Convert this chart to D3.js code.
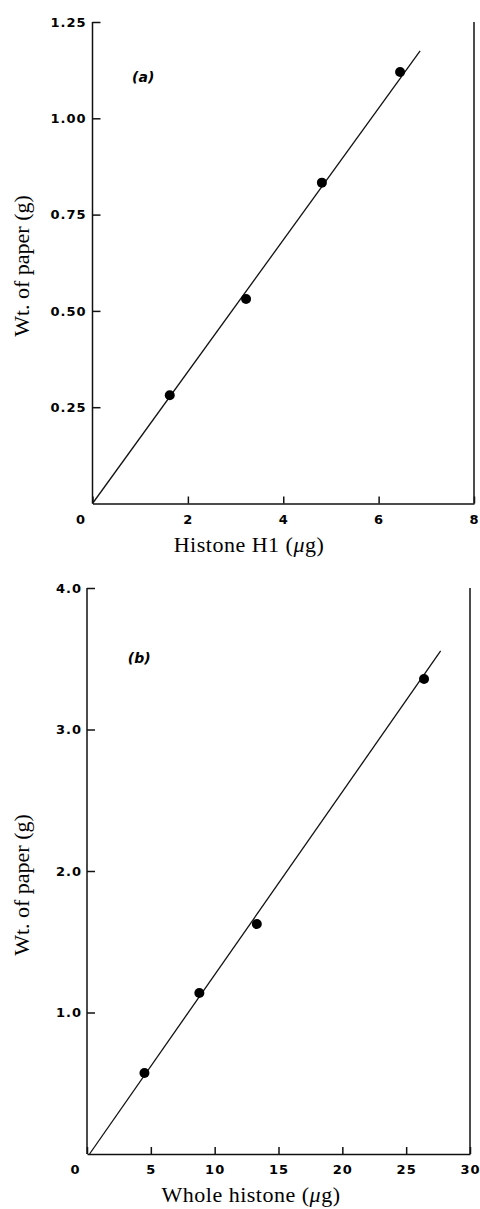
<!DOCTYPE html>
<html>
<head>
<meta charset="utf-8">
<script src="https://cdn.jsdelivr.net/npm/d3@7"></script>
<style>
  body { margin: 0; background: #fff; }
  svg { display: block; }
  .tick text { font-family: "DejaVu Sans", sans-serif; font-weight: bold; font-size: 13px; letter-spacing: 1px; fill: #000; }
  .axis path, .axis line { stroke: #111; stroke-width: 1.5; }
  .title { font-family: "Liberation Serif", "Times New Roman", serif; font-size: 22px; fill: #000; }
  .tag { font-family: "DejaVu Sans", sans-serif; font-weight: bold; font-style: italic; font-size: 14px; fill: #000; }
</style>
</head>
<body>
<svg id="chart" width="480" height="1209"></svg>
<script>
// Panel (a): histone H1
var h1Amount = [1.62, 3.22, 4.81, 6.45];
var h1Weight = [0.281, 0.531, 0.833, 1.12];
var h1FitX = [0, 6.87];
var h1FitY = [0, 1.175];
var h1XTicks = [0, 2, 4, 6, 8];
var h1YTicks = [0.25, 0.5, 0.75, 1.0, 1.25];

// Panel (b): whole histone
var wholeAmount = [4.5, 8.8, 13.3, 26.4];
var wholeWeight = [0.572, 1.138, 1.625, 3.357];
var wholeFitX = [0.2, 27.7];
var wholeFitY = [0, 3.555];
var wholeXTicks = [0, 5, 10, 15, 20, 25, 30];
var wholeYTicks = [1, 2, 3, 4];

var svg = d3.select("#chart");

function drawPanel(opt) {
	let g = svg.append("g");
	let x = d3.scaleLinear().domain(opt.xDomain).range(opt.xRange);
	let y = d3.scaleLinear().domain(opt.yDomain).range(opt.yRange);

	// y axis, ticks pointing inward
	let ya = g.append("g")
		.attr("class", "axis")
		.attr("transform", `translate(${opt.xRange[0]},0)`)
		.call(d3.axisLeft(y).tickValues(opt.yTicks).tickFormat(d3.format(opt.yFmt))
			.tickSizeInner(-8).tickSizeOuter(0).tickPadding(opt.yPad));
	ya.select(".domain").attr("d", `M0,${opt.yRange[0]}V${opt.yRange[1]}`);

	// x axis, ticks pointing up
	let xa = g.append("g")
		.attr("class", "axis")
		.attr("transform", `translate(0,${opt.yRange[0]})`)
		.call(d3.axisBottom(x).tickValues(opt.xTicks).tickFormat(d3.format("d"))
			.tickSizeInner(-7).tickSizeOuter(0).tickPadding(11));
	// the zero label sits left of the corner
	xa.selectAll(".tick text").filter(d => d === 0).attr("x", -12);

	// right border
	g.append("line")
		.attr("x1", x(opt.xDomain[1])).attr("x2", x(opt.xDomain[1]))
		.attr("y1", y(opt.yDomain[1])).attr("y2", y(0))
		.attr("stroke", "#111").attr("stroke-width", 1.5);

	// fitted line
	let fit = d3.zip(opt.fitX, opt.fitY);
	g.append("path")
		.datum(fit)
		.attr("d", d3.line().x(d => x(d[0])).y(d => y(d[1])))
		.attr("fill", "none")
		.attr("stroke", "#111")
		.attr("stroke-width", 1.3);

	// points
	g.selectAll("circle")
		.data(d3.zip(opt.px, opt.py))
		.enter().append("circle")
		.attr("cx", d => x(d[0]))
		.attr("cy", d => y(d[1]))
		.attr("r", 5)
		.attr("fill", "#000");

	// labels
	g.append("text")
		.attr("class", "tag")
		.attr("x", x(opt.tagAt[0])).attr("y", y(opt.tagAt[1]))
		.text(opt.tag);
	let xl = g.append("text")
		.attr("class", "title")
		.attr("text-anchor", "middle")
		.attr("x", opt.xLabelPos[0]).attr("y", opt.xLabelPos[1])
		.style("letter-spacing", "0.5px");
	xl.append("tspan").text(opt.xLabel + " (");
	xl.append("tspan").style("font-style", "italic").text("\u03bc");
	xl.append("tspan").text("g)");
	g.append("text")
		.attr("class", "title")
		.attr("text-anchor", "middle")
		.attr("transform", `translate(${opt.yLabelPos[0]},${opt.yLabelPos[1]}) rotate(-90)`)
		.text("Wt. of paper (g)");
}

drawPanel({
	xDomain: [0, 8], xRange: [92.5, 474],
	yDomain: [0, 1.25], yRange: [503.5, 22],
	xTicks: h1XTicks, yTicks: h1YTicks, yFmt: ".2f", yPad: 6,
	fitX: h1FitX, fitY: h1FitY, px: h1Amount, py: h1Weight,
	tag: "(a)", tagAt: [0.83, 1.095],
	xLabel: "Histone H1", xLabelPos: [249, 552],
	yLabelPos: [29, 266]
});

drawPanel({
	xDomain: [0, 30], xRange: [87, 470],
	yDomain: [0, 4], yRange: [1154, 588],
	xTicks: wholeXTicks, yTicks: wholeYTicks, yFmt: ".1f", yPad: 5,
	fitX: wholeFitX, fitY: wholeFitY, px: wholeAmount, py: wholeWeight,
	tag: "(b)", tagAt: [3.2, 3.47],
	xLabel: "Whole histone", xLabelPos: [251, 1202],
	yLabelPos: [29, 885]
});
</script>
</body>
</html>
